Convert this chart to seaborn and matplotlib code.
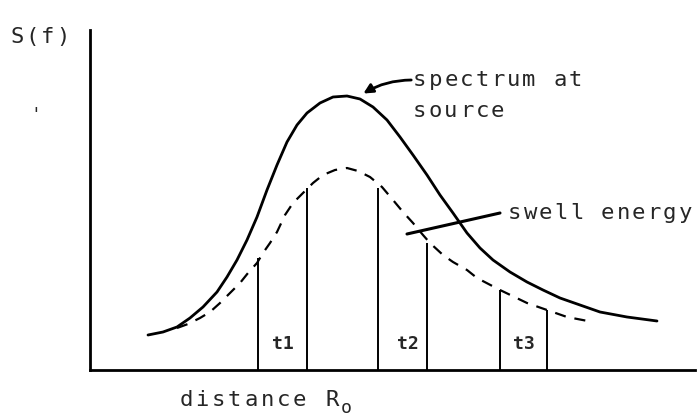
import matplotlib
matplotlib.use('Agg')
import matplotlib.pyplot as plt
import seaborn as sns
import pandas as pd

# curves (distance vs S(f), arbitrary units)
source_x = [58, 73, 87, 100, 113, 127, 137, 147, 157, 167, 177, 187, 197, 207, 217, 230, 243, 257, 270,
            283, 297, 310, 323, 337, 350, 363, 377, 390, 403, 420, 437, 453, 470, 490, 510, 537, 567]
source_y = [35, 38, 43, 52, 63, 78, 93, 110, 130, 153, 180, 205, 228, 245, 257, 267, 273, 274, 271,
            263, 250, 233, 215, 195, 175, 157, 137, 122, 110, 98, 88, 80, 72, 65, 58, 53, 49]

swell_x = [87, 98, 110, 120, 130, 140, 150, 158, 167, 173, 180, 187, 195, 203, 213, 223, 233, 245,
           257, 268, 280, 292, 303, 313, 323, 333, 340, 353, 363, 377, 387, 410, 437, 457, 477, 503]
swell_y = [42, 46, 52, 58, 67, 77, 87, 97, 107, 117, 127, 138, 155, 167, 177, 187, 195, 200,
           202, 199, 193, 183, 170, 158, 147, 135, 127, 115, 108, 100, 92, 80, 67, 60, 53, 48]

# time windows t1..t3 (left/right edges and heights)
bar_x = [168, 217, 288, 337, 410, 457]
bar_h = [112, 182, 182, 127, 80, 60]
win_labels = ['t1', 't2', 't3']
win_x = [193, 318, 434]

src = pd.DataFrame({'distance': source_x, 'S': source_y})
swl = pd.DataFrame({'distance': swell_x, 'S': swell_y})

sns.set_style('white')
plt.rcParams['font.family'] = ['DejaVu Sans Mono', 'DejaVu Sans']

fig = plt.figure(figsize=(6.98, 4.19), dpi=100)
ax = fig.add_axes([90 / 698, 49 / 419, 605 / 698, 340 / 419])


def spaced(x, y, s, pitch=15.6, size=16):
    # typewriter-like lettering with wide pitch
    for i, c in enumerate(s):
        ax.text(x + pitch * (i + 0.5), y, c, ha='center', va='center',
                fontsize=size, clip_on=False)


sns.lineplot(data=src, x='distance', y='S', sort=False, color='black', lw=2.0, ax=ax)
sns.lineplot(data=swl, x='distance', y='S', sort=False, color='black', lw=1.6,
             linestyle=(0, (5, 4)), ax=ax)
ax.vlines(bar_x, 0, bar_h, color='black', lw=1.4)

for lab, x in zip(win_labels, win_x):
    ax.text(x, 26, lab, ha='center', va='center', fontsize=13, fontweight='bold')

ax.set_xlim(0, 605)
ax.set_ylim(0, 340)
ax.set_xticks([])
ax.set_yticks([])
ax.set_xlabel('')
ax.set_ylabel('')
sns.despine(ax=ax)
for sp in ['left', 'bottom']:
    ax.spines[sp].set_linewidth(2.0)
    ax.spines[sp].set_color('black')

spaced(-80, 333, 'S(f)', pitch=15)
ax.text(-60, 255, "'", fontsize=13, va='center', ha='left', clip_on=False)
spaced(322, 290, 'spectrum at')
spaced(322, 259, 'source')
ax.annotate('', xy=(271, 275), xytext=(324, 290),
            arrowprops=dict(arrowstyle='-|>', color='black', lw=2,
                            connectionstyle='arc3,rad=0.15', mutation_scale=14))
spaced(417, 157, 'swell energy', pitch=15.5)
ax.plot([317, 410], [136, 157], color='black', lw=2.2)
spaced(88, -30, 'distance R', pitch=16.2)
ax.text(251, -38, 'o', fontsize=13, va='center', ha='left', clip_on=False)

fig.savefig('out.png', dpi=100)
